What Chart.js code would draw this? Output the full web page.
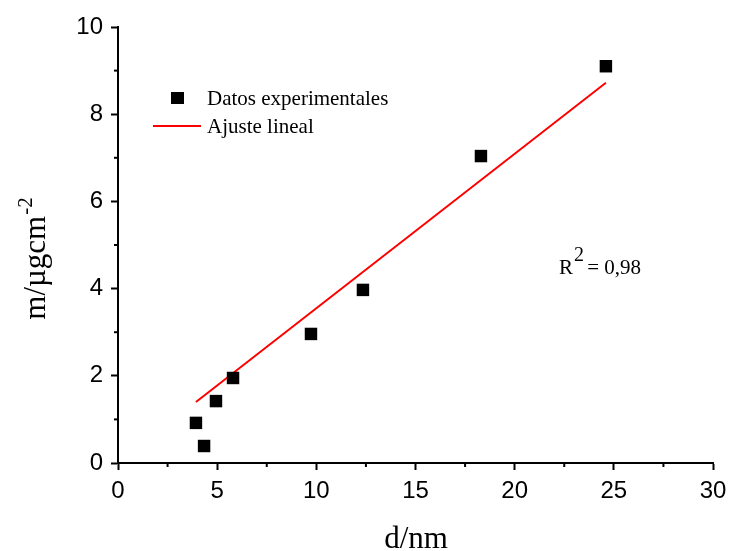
<!DOCTYPE html>
<html>
<head>
<meta charset="utf-8">
<script src="https://cdn.jsdelivr.net/npm/chart.js@4/dist/chart.umd.min.js"></script>
<style>
  html, body { margin: 0; padding: 0; background: #fff; }
  #wrap { width: 730px; height: 551px; }
</style>
</head>
<body>
<div id="wrap"><canvas id="massChart"></canvas></div>
<script>
// measured thickness d (nm) vs mass per area (µg/cm²)
const thickness = [3.93, 4.34, 4.94, 5.80, 9.73, 12.35, 18.3, 24.6];
const massArea = [0.92, 0.39, 1.42, 1.95, 2.96, 3.97, 7.04, 9.1];
// linear fit endpoints
const fitX = [3.93, 24.6];
const fitY = [1.40, 8.72];
const xTicks = [0, 5, 10, 15, 20, 25, 30];
const yTicks = [0, 2, 4, 6, 8, 10];
const rSquared = '0,98';

const serif = '"Liberation Serif", "Times New Roman", serif';
const sans = '"Liberation Sans", Arial, sans-serif';

// minor ticks, axis titles, legend and R² annotation
const decorations = {
  id: 'decorations',
  afterDraw(chart) {
    const ctx = chart.ctx;
    const xs = chart.scales.x, ys = chart.scales.y;
    const area = chart.chartArea;
    ctx.save();
    ctx.strokeStyle = '#000';
    ctx.lineWidth = 2;
    for (let i = 0; i < xTicks.length - 1; i++) {
      const px = xs.getPixelForValue((xTicks[i] + xTicks[i + 1]) / 2);
      ctx.beginPath();
      ctx.moveTo(px, area.bottom);
      ctx.lineTo(px, area.bottom + 4);
      ctx.stroke();
    }
    for (let i = 0; i < yTicks.length - 1; i++) {
      const py = ys.getPixelForValue((yTicks[i] + yTicks[i + 1]) / 2);
      ctx.beginPath();
      ctx.moveTo(area.left, py);
      ctx.lineTo(area.left - 4, py);
      ctx.stroke();
    }

    ctx.fillStyle = '#000';
    // x title
    ctx.font = '31px ' + serif;
    ctx.textAlign = 'center';
    ctx.textBaseline = 'alphabetic';
    ctx.fillText('d/nm', 416, 548);

    // y title with superscript
    ctx.save();
    ctx.translate(45, 259);
    ctx.rotate(-Math.PI / 2);
    const base = 'm/\u00b5gcm';
    const sup = '-2';
    ctx.font = '31px ' + serif;
    const wBase = ctx.measureText(base).width;
    ctx.font = '21px ' + serif;
    const wSup = ctx.measureText(sup).width;
    const start = -(wBase + wSup) / 2;
    ctx.textAlign = 'left';
    ctx.font = '31px ' + serif;
    ctx.fillText(base, start, 0);
    ctx.font = '21px ' + serif;
    ctx.fillText(sup, start + wBase + 1, -13);
    ctx.restore();

    // legend
    ctx.font = '21px ' + serif;
    ctx.textAlign = 'left';
    ctx.textBaseline = 'middle';
    ctx.fillRect(171, 92, 13, 12);
    ctx.fillText('Datos experimentales', 207, 99);
    ctx.strokeStyle = '#ff0000';
    ctx.lineWidth = 2;
    ctx.beginPath();
    ctx.moveTo(153, 126);
    ctx.lineTo(201, 126);
    ctx.stroke();
    ctx.fillText('Ajuste lineal', 207, 127);

    // R² note
    ctx.textBaseline = 'alphabetic';
    ctx.font = '21px ' + serif;
    ctx.fillText('R', 559, 274);
    const wR = ctx.measureText('R').width;
    ctx.font = '20px ' + serif;
    ctx.fillText('2', 559 + wR + 1, 261);
    ctx.font = '21px ' + serif;
    ctx.fillText(' = ' + rSquared, 559 + wR + 9, 274);
    ctx.restore();
  }
};

new Chart(document.getElementById('massChart'), {
  type: 'scatter',
  data: {
    datasets: [
      {
        label: 'Datos experimentales',
        data: thickness.map((x, i) => ({ x: x, y: massArea[i] })),
        pointStyle: 'rect',
        pointRadius: 8.8,
        pointHoverRadius: 8.8,
        backgroundColor: '#000',
        borderColor: '#000',
        borderWidth: 0,
        order: 1
      },
      {
        label: 'Ajuste lineal',
        type: 'line',
        data: fitX.map((x, i) => ({ x: x, y: fitY[i] })),
        borderColor: '#ff0000',
        borderWidth: 2,
        pointRadius: 0,
        fill: false,
        order: 2
      }
    ]
  },
  options: {
    responsive: true,
    maintainAspectRatio: false,
    animation: false,
    layout: { padding: { top: 27, right: 17, left: 0, bottom: 0 } },
    scales: {
      x: {
        type: 'linear',
        min: 0,
        max: 30,
        afterBuildTicks: (s) => { s.ticks = xTicks.map(v => ({ value: v })); },
        afterFit: (s) => { s.height = 88; s.paddingLeft = 0; s.paddingRight = 0; },
        border: { color: '#000', width: 2 },
        grid: { drawOnChartArea: false, tickLength: 7, tickColor: '#000', tickWidth: 2 },
        ticks: { color: '#000', font: { family: sans, size: 24 }, padding: 7, maxRotation: 0 }
      },
      y: {
        type: 'linear',
        min: 0,
        max: 10,
        afterBuildTicks: (s) => { s.ticks = yTicks.map(v => ({ value: v })); },
        afterFit: (s) => { s.width = 118; s.paddingTop = 0; s.paddingBottom = 0; },
        border: { color: '#000', width: 2 },
        grid: { drawOnChartArea: false, tickLength: 7, tickColor: '#000', tickWidth: 2 },
        ticks: { color: '#000', font: { family: sans, size: 24 }, padding: 8 }
      }
    },
    plugins: {
      legend: { display: false },
      tooltip: { enabled: false }
    }
  },
  plugins: [decorations]
});
</script>
</body>
</html>
